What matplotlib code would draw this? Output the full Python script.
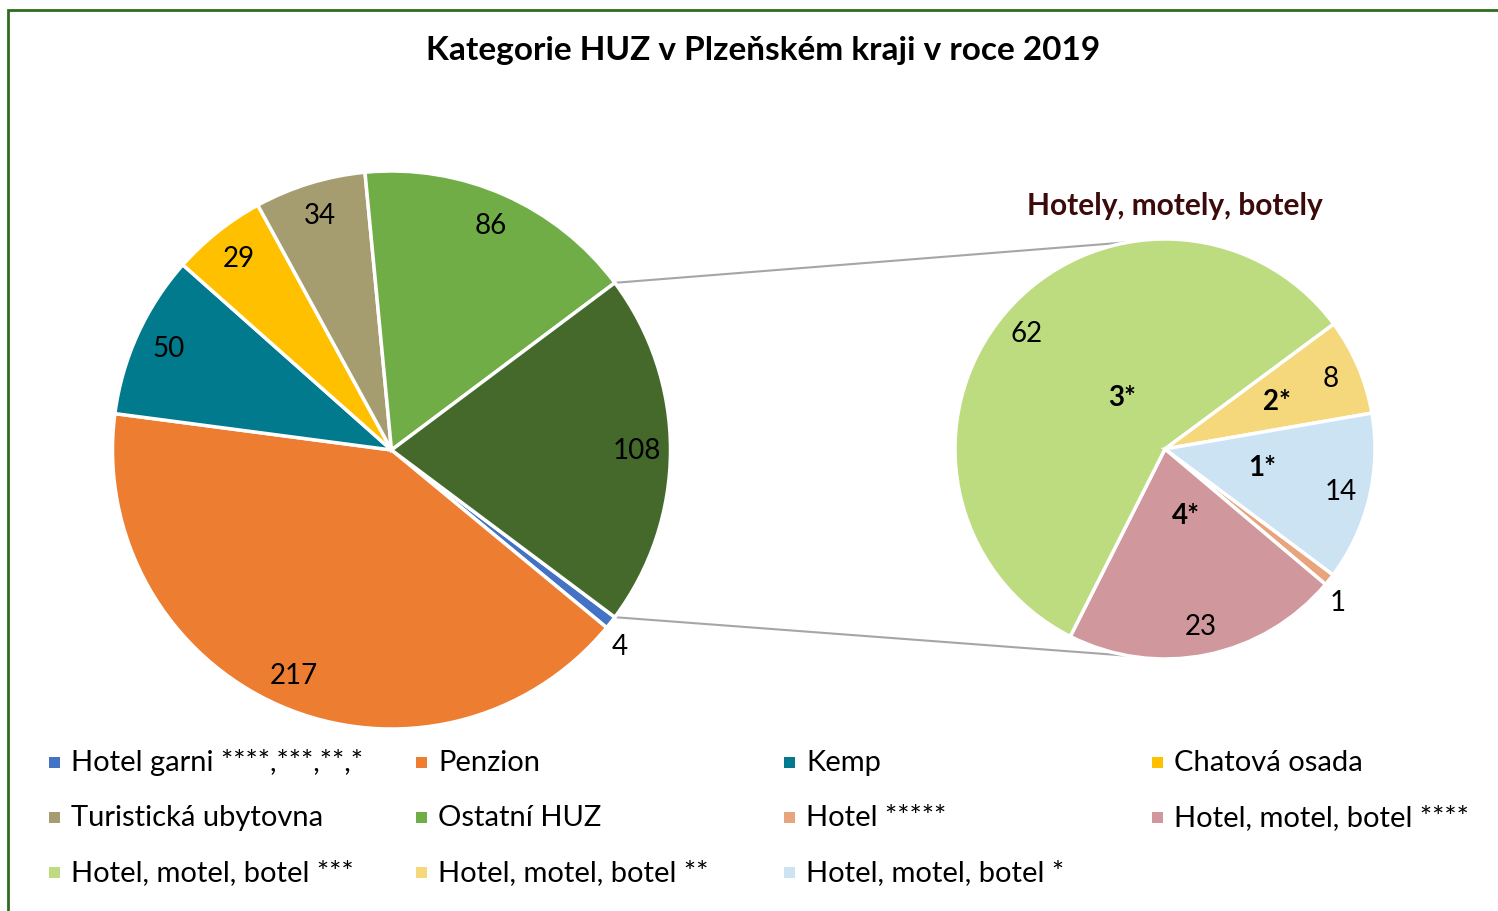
import matplotlib
matplotlib.use('Agg')
import matplotlib.pyplot as plt
from matplotlib.patches import Rectangle
import numpy as np

plt.rcParams['font.family'] = ['Lato', 'DejaVu Sans']

# main pie
main_labels = ['Hotel garni ****,***,**,*', 'Penzion', 'Kemp', 'Chatová osada',
               'Turistická ubytovna', 'Ostatní HUZ', 'Hotely, motely, botely']
main_values = [4, 217, 50, 29, 34, 86, 108]
main_colors = ['#4472C4', '#ED7D31', '#007A8C', '#FFC000', '#A59D6F', '#70AD47', '#44692B']

# second pie (breakdown of the last main slice)
sub_labels = ['Hotel *****', 'Hotel, motel, botel ****', 'Hotel, motel, botel ***',
              'Hotel, motel, botel **', 'Hotel, motel, botel *']
sub_short = ['', '4*', '3*', '2*', '1*']
sub_values = [1, 23, 62, 8, 14]
sub_colors = ['#E8A47C', '#D0979C', '#BDDC80', '#F5D87C', '#CCE3F4']

title = 'Kategorie HUZ v Plzeňském kraji v roce 2019'
sub_title = 'Hotely, motely, botely'

W, H = 1498, 912
fig = plt.figure(figsize=(W / 100, H / 100), dpi=100)
ax = fig.add_axes([0, 0, 1, 1])

c1, r1 = (391.5, H - 451), 279
c2, r2 = (1165, H - 450), 210
start = -0.5 * 360 * main_values[-1] / sum(main_values)

wp = dict(edgecolor='white', linewidth=2.5)
w1, _ = ax.pie(main_values, colors=main_colors, center=c1, radius=r1,
               startangle=start, counterclock=False, wedgeprops=wp)
w2, _ = ax.pie(sub_values, colors=sub_colors, center=c2, radius=r2,
               startangle=start, counterclock=False, wedgeprops=wp)

ax.set_xlim(0, W)
ax.set_ylim(0, H)
ax.set_aspect('equal')
ax.axis('off')


def put(wedge, c, r, dist, txt, shift=0, **kw):
    a = np.deg2rad((wedge.theta1 + wedge.theta2) / 2 + shift)
    ax.text(c[0] + dist * r * np.cos(a), c[1] + dist * r * np.sin(a), txt,
            ha='center', va='center', **kw)


for w, v in zip(w1, main_values):
    if v < 10:
        put(w, c1, r1, 1.08, str(v), shift=-2.5, fontsize=20)
    else:
        put(w, c1, r1, 0.88, str(v), fontsize=20)

for w, v in zip(w2, sub_values):
    if v < 5:
        put(w, c2, r2, 1.1, str(v), shift=-3, fontsize=20)
    else:
        put(w, c2, r2, 0.86, str(v), fontsize=20)

star_dist = [0, 0.33, 0.32, 0.58, 0.47]
star_shift = [0, 6, -10, 0, 3]
for w, s, d, sh in zip(w2, sub_short, star_dist, star_shift):
    if s:
        put(w, c2, r2, d, s, shift=sh, fontsize=20, fontweight='bold')

# connector lines between the two pies
for a_main, a_sub in [(w1[-1].theta2, 100), (w1[-1].theta1, 260)]:
    p = (c1[0] + r1 * np.cos(np.deg2rad(a_main)), c1[1] + r1 * np.sin(np.deg2rad(a_main)))
    q = (c2[0] + r2 * np.cos(np.deg2rad(a_sub)), c2[1] + r2 * np.sin(np.deg2rad(a_sub)))
    ax.plot([p[0], q[0]], [p[1], q[1]], color='#A6A6A6', lw=1.5, zorder=0)

ax.text(763, H - 50, title, ha='center', va='center', fontsize=24, fontweight='bold')
ax.text(1175, H - 206, sub_title, ha='center', va='center', fontsize=21.5,
        fontweight='bold', color='#3C0A0A')

# legend, 4 equal columns like Excel
leg_labels = main_labels[:-1] + sub_labels
leg_colors = main_colors[:-1] + sub_colors
col_x = [49, 416, 784, 1152]
row_y = [763, 818, 873]
for i, (lab, col) in enumerate(zip(leg_labels, leg_colors)):
    x = col_x[i % 4]
    y = H - row_y[i // 4]
    ax.add_patch(Rectangle((x, y - 5.5), 11, 11, color=col, lw=0))
    ax.text(x + 22, y, lab, ha='left', va='center', fontsize=21)

# green frame (right and bottom edges fall outside the picture)
ax.add_patch(Rectangle((8, -20), W + 20, H - 11 + 20, fill=False,
                       edgecolor='#2E6B1F', lw=2, clip_on=False))

fig.savefig('out.png', dpi=100)
